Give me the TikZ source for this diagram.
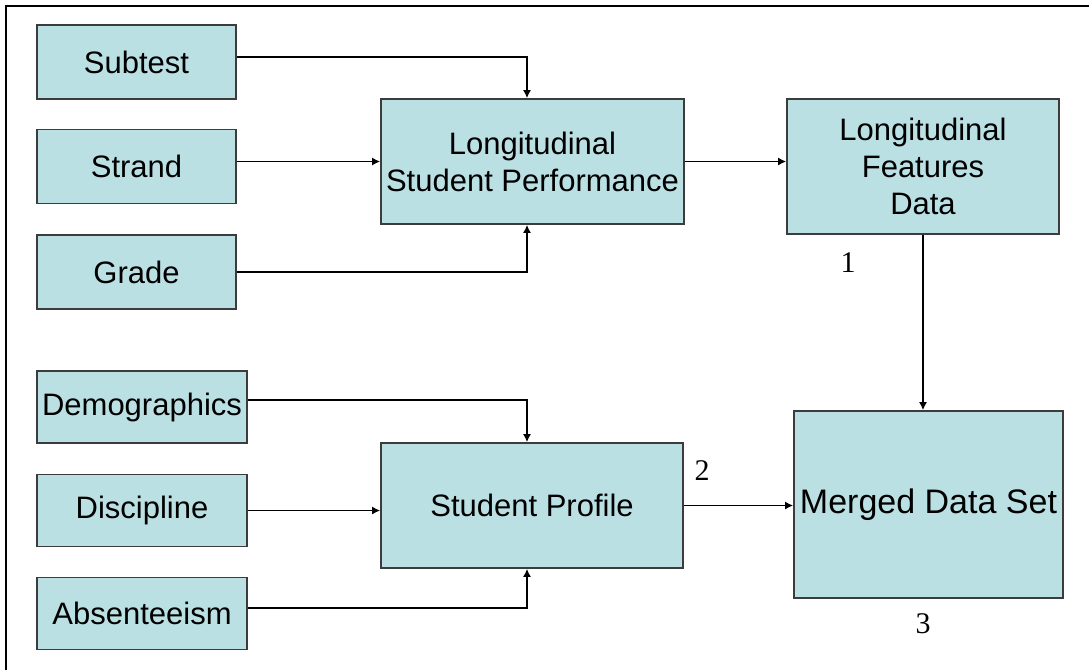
\documentclass[tikz,border=0pt]{standalone}
\usepackage{fontspec}
\setmainfont{Liberation Sans}
\newfontfamily\numfont{Liberation Serif}
\usetikzlibrary{arrows.meta}
\definecolor{boxfill}{RGB}{186,224,228}
\definecolor{boxline}{RGB}{60,60,60}

\begin{document}
\begin{tikzpicture}[x=0.5pt,y=-0.5pt,
  blk/.style={draw=boxline,fill=boxfill,line width=0.9pt,rectangle,align=center,inner sep=0pt,font=\fontsize{15.5}{18.5}\selectfont},
  src/.style={blk,minimum width=99.5pt,minimum height=37pt},
  src2/.style={blk,minimum width=105pt,minimum height=36pt},
  link/.style={-{Latex[length=4pt,width=4pt]},line width=0.65pt},
  num/.style={font=\numfont\fontsize{15}{18}\selectfont}]
\useasboundingbox (0,0) rectangle (1089,670);
\draw[line width=0.9pt] (1089,6) -- (6,6) -- (6,670);

% inputs
\node[src] (subtest) at (136.5,62) {Subtest};
\node[src] (strand) at (136.5,166.5) {Strand};
\node[src] (grade) at (136.5,272) {Grade};
\node[src2] (demo) at (142,407) {Demographics};
\node[src2] (disc) at (142,510.5) {Discipline};
\node[src2] (absent) at (142,613.5) {Absenteeism};

% middle and right
\node[blk,minimum width=151.5pt,minimum height=62.5pt] (perf) at (532.5,161.5) {Longitudinal\\Student Performance};
\node[blk,minimum width=151pt,minimum height=62.5pt] (profile) at (532,505.5) {Student Profile};
\node[blk,minimum width=136pt,minimum height=67.5pt] (feat) at (923,166.5) {Longitudinal\\Features\\Data};
\node[blk,minimum width=134.5pt,minimum height=93.5pt,font=\fontsize{17}{20}\selectfont] (merged) at (928.5,504.5) {Merged Data Set};

\node[num] (n1) at (848,263) {1};
\node[num] (n2) at (702,471) {2};
\node[num] (n3) at (923,624) {3};

\draw[link] ([yshift=2.5pt]subtest.east) -| ([xshift=-2.75pt]perf.north);
\draw[link] (strand.east |- perf.west) -- (perf.west);
\draw[link] (grade.east) -| ([xshift=-2.75pt]perf.south);
\draw[link] (perf.east) -- (perf.east -| feat.west);
\draw[link] (feat.south) -- (feat.south |- merged.north);
\draw[link] ([yshift=3.5pt]demo.east) -| ([xshift=-2.5pt]profile.north);
\draw[link] (disc.east) -- (disc.east -| profile.west);
\draw[link] ([yshift=2.75pt]absent.east) -| ([xshift=-2.5pt]profile.south);
\draw[link] (profile.east) -- (profile.east -| merged.west);
\end{tikzpicture}
\end{document}
